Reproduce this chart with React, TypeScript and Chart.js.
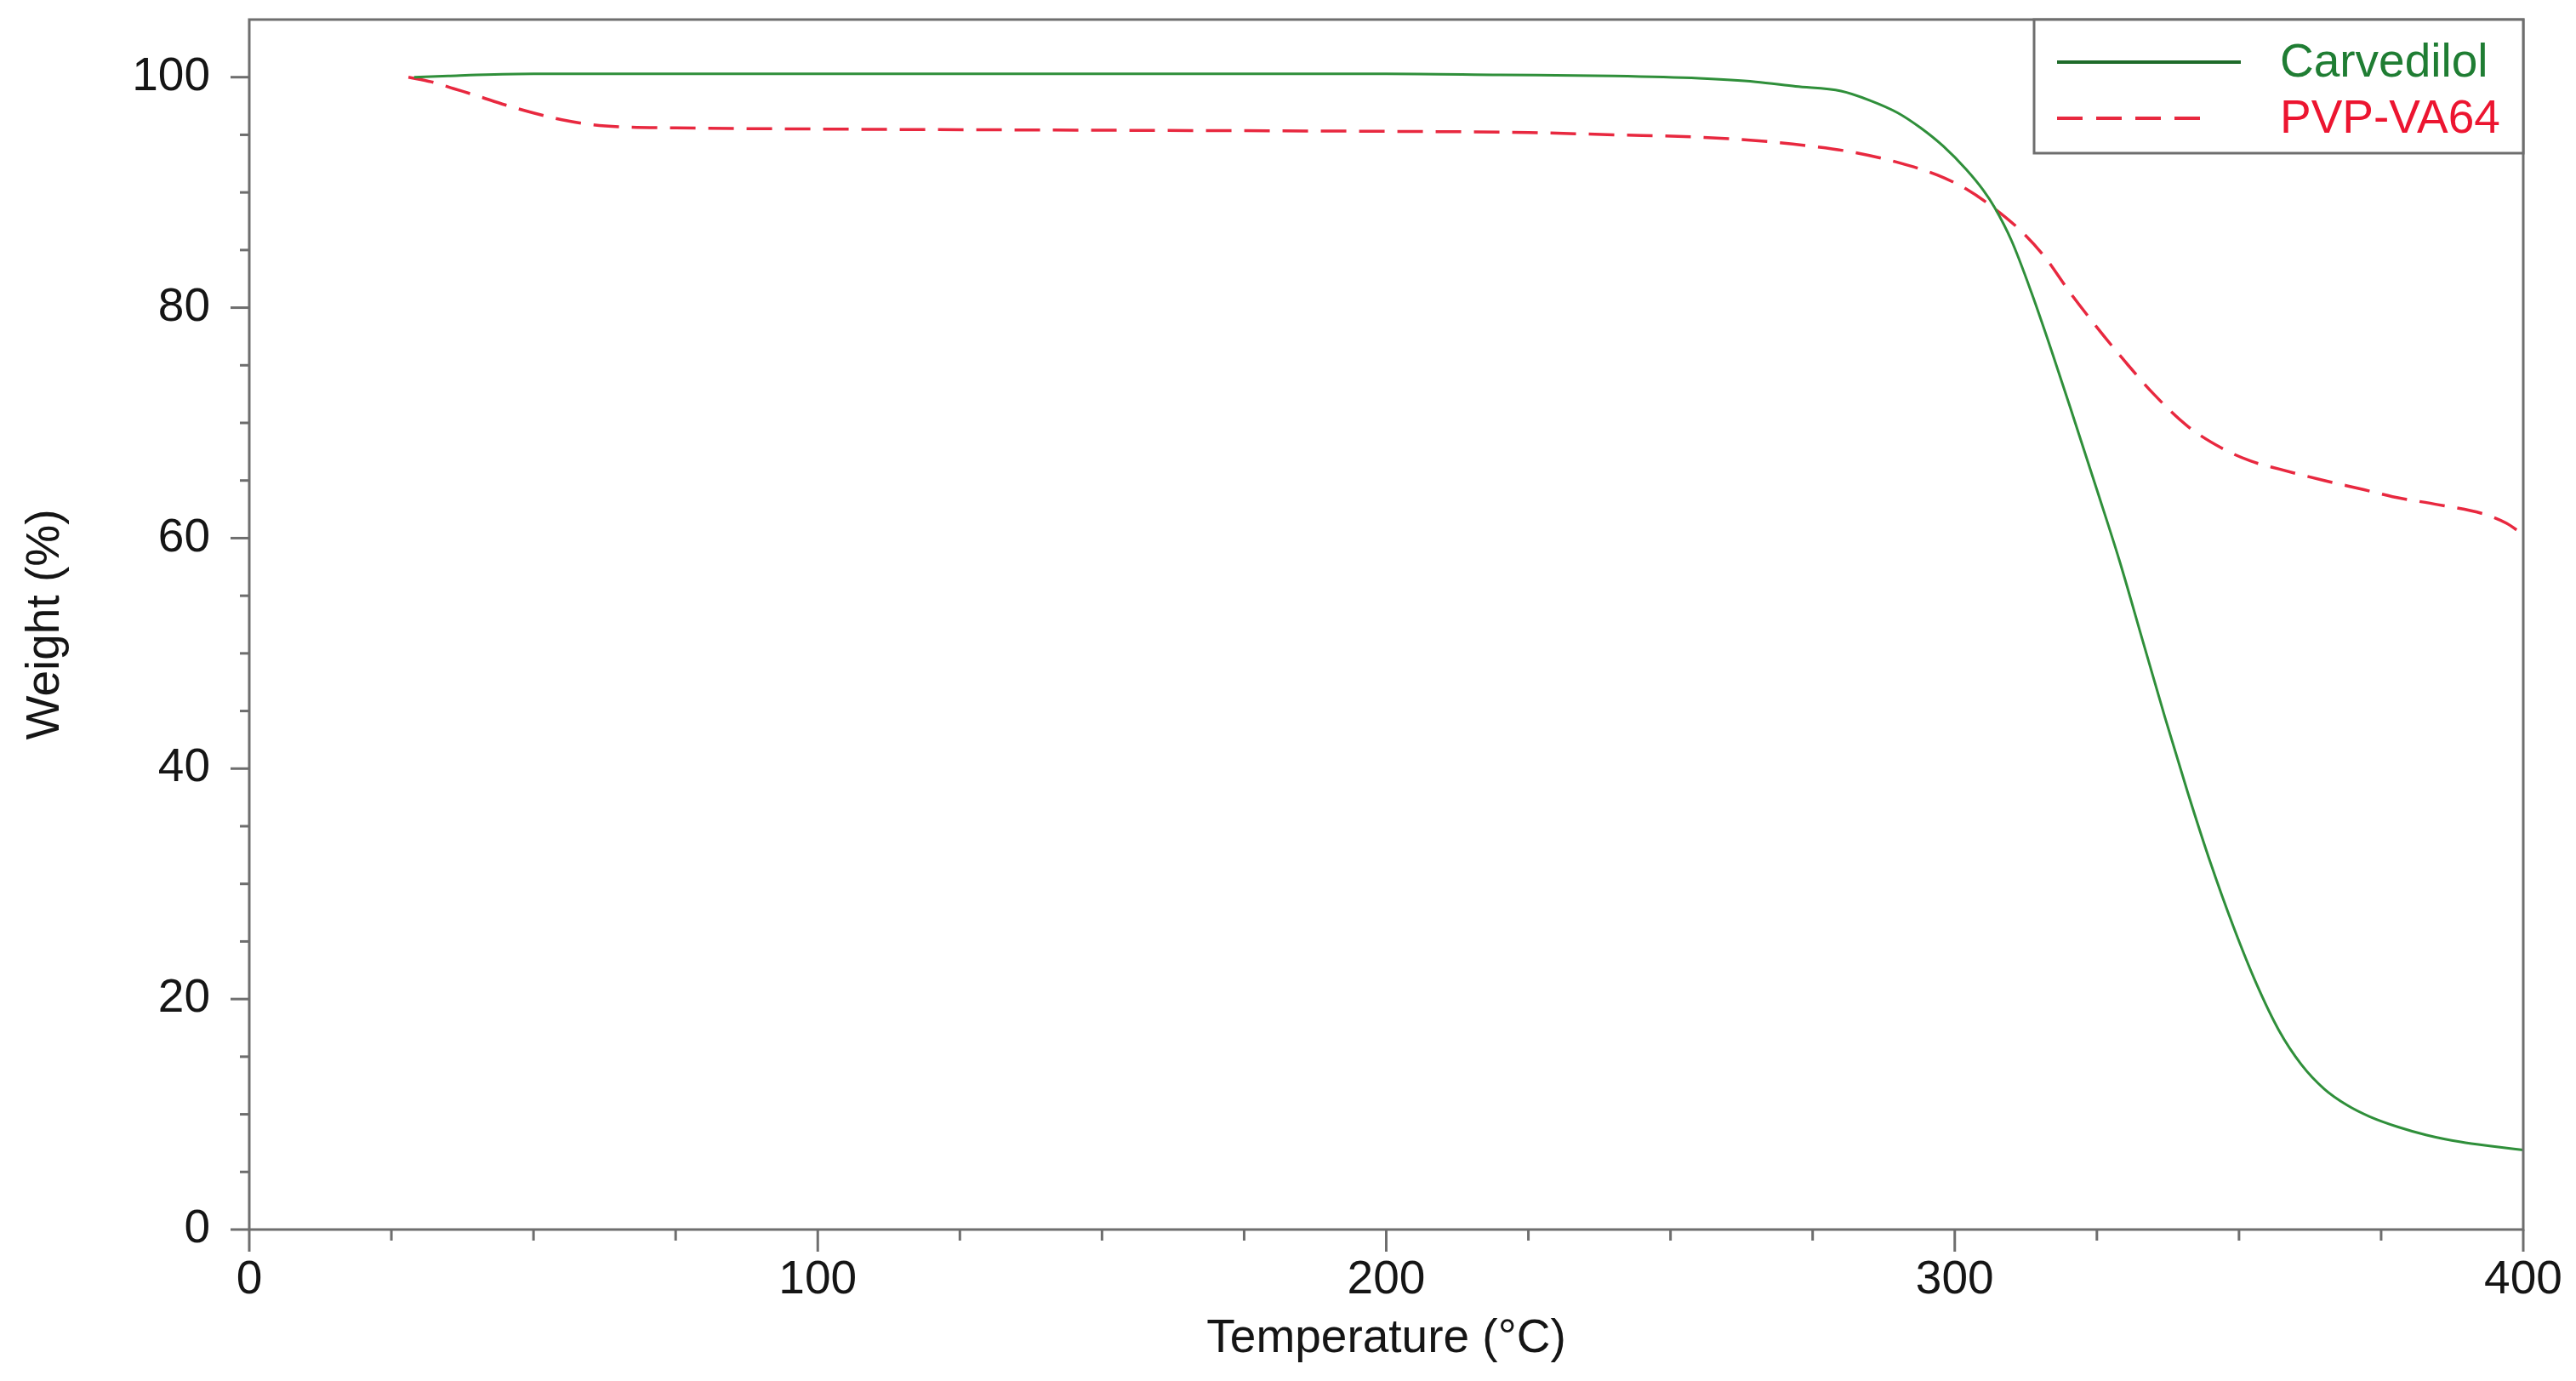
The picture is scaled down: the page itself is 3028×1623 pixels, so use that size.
import React, { useEffect, useRef } from 'react';
import { Chart, registerables } from 'chart.js';

Chart.register(...registerables);

// ---- data ----
const carvedilolTemp = [29, 35, 40, 50, 75, 100, 150, 200, 220, 240, 255, 265, 272, 280, 285, 290, 294, 298, 302, 305, 307, 310, 313.5, 317, 321, 325, 329, 333, 337, 341, 345, 349, 353, 357, 361, 365, 369, 373, 378, 383, 389, 395, 400];
const carvedilolWeight = [100, 100.1, 100.2, 100.3, 100.3, 100.3, 100.3, 100.3, 100.2, 100.1, 99.9, 99.6, 99.2, 98.8, 98.0, 96.9, 95.6, 94.0, 92.0, 90.2, 88.7, 85.8, 81.3, 76.3, 70.3, 64.2, 58, 51.2, 44.4, 37.9, 31.8, 26.3, 21.4, 17.3, 14.3, 12.2, 10.8, 9.8, 8.9, 8.2, 7.6, 7.2, 6.9];

const pvpTemp = [28, 32, 36, 40, 45, 50, 55, 60, 65, 75, 100, 150, 200, 225, 240, 255, 265, 275, 282, 290, 297, 302, 307, 312, 316, 320, 325, 330, 335, 341, 347, 352, 357, 365, 372, 377, 385, 393, 397, 400];
const pvpWeight = [100, 99.6, 99.0, 98.4, 97.6, 96.9, 96.3, 95.9, 95.7, 95.6, 95.5, 95.4, 95.3, 95.2, 95.0, 94.8, 94.5, 94.0, 93.5, 92.6, 91.5, 90.3, 88.6, 86.5, 84.3, 81.5, 78.3, 75.3, 72.5, 69.7, 67.8, 66.7, 66.0, 65.0, 64.2, 63.6, 62.9, 62.1, 61.3, 60.3];

const seriesLabels = ['Carvedilol', 'PVP-VA64'];
const xMajorTicks = [0, 100, 200, 300, 400];
const yMajorTicks = [0, 20, 40, 60, 80, 100];
const xMinorStep = 25;
const yMinorStep = 5;
const xTitle = 'Temperature (°C)';
const yTitle = 'Weight (%)';

// ---- styles ----
const FONT = '"Liberation Sans", Arial, Helvetica, sans-serif';
const GREEN_LINE = '#2f8f3a';
const GREEN_TEXT = '#1f7d33';
const RED_LINE = '#e8283f';
const RED_TEXT = '#ec1530';
const AXIS_GRAY = '#6e6e6e';

const framePlugin = {
  id: 'frameAndTicks',
  afterDraw(chart: any) {
    const { ctx, chartArea } = chart;
    const { left, right, top, bottom } = chartArea;
    const xs = chart.scales.x;
    const ys = chart.scales.y;
    ctx.save();
    ctx.strokeStyle = AXIS_GRAY;
    ctx.lineWidth = 3;
    ctx.strokeRect(left, top, right - left, bottom - top);

    // y ticks
    for (let v = ys.min; v <= 100 + 1e-6; v += yMinorStep) {
      const y = ys.getPixelForValue(v);
      const len = yMajorTicks.includes(v) ? 22 : 11;
      ctx.beginPath();
      ctx.moveTo(left - len, y);
      ctx.lineTo(left, y);
      ctx.stroke();
    }
    // x ticks
    for (let v = xs.min; v <= xs.max + 1e-6; v += xMinorStep) {
      const x = xs.getPixelForValue(v);
      const len = xMajorTicks.includes(v) ? 26 : 13;
      ctx.beginPath();
      ctx.moveTo(x, bottom);
      ctx.lineTo(x, bottom + len);
      ctx.stroke();
    }

    // legend box
    const boxW = 575;
    const boxH = 157;
    const bx = right - boxW;
    const by = top;
    ctx.fillStyle = '#ffffff';
    ctx.fillRect(bx, by, boxW, boxH);
    ctx.strokeStyle = AXIS_GRAY;
    ctx.lineWidth = 3;
    ctx.strokeRect(bx, by, boxW, boxH);

    const items = [
      { label: chart.data.datasets[0].label, line: '#1e6b2a', text: GREEN_TEXT, dash: [] as number[], y: by + 50, len: 216 },
      { label: chart.data.datasets[1].label, line: RED_LINE, text: RED_TEXT, dash: [30, 16], y: by + 116, len: 170 },
    ];
    ctx.font = `55px ${FONT}`;
    ctx.textBaseline = 'middle';
    ctx.textAlign = 'left';
    for (const it of items) {
      ctx.strokeStyle = it.line;
      ctx.lineWidth = 4;
      ctx.setLineDash(it.dash);
      ctx.beginPath();
      ctx.moveTo(bx + 27, it.y);
      ctx.lineTo(bx + 27 + it.len, it.y);
      ctx.stroke();
      ctx.setLineDash([]);
      ctx.fillStyle = it.text;
      ctx.fillText(it.label, bx + 289, it.y + 2);
    }
    ctx.restore();
  },
};

export default function App() {
  const canvasRef = useRef<HTMLCanvasElement | null>(null);

  useEffect(() => {
    document.body.style.margin = '0';
    const canvas = canvasRef.current;
    if (!canvas) return;
    const toPoints = (xsArr: number[], ysArr: number[]) => xsArr.map((x, i) => ({ x, y: ysArr[i] }));
    const chart = new Chart(canvas, {
      type: 'line',
      data: {
        datasets: [
          {
            label: seriesLabels[0],
            data: toPoints(carvedilolTemp, carvedilolWeight),
            borderColor: GREEN_LINE,
            borderWidth: 3,
            pointRadius: 0,
            cubicInterpolationMode: 'monotone',
            fill: false,
          },
          {
            label: seriesLabels[1],
            data: toPoints(pvpTemp, pvpWeight),
            borderColor: RED_LINE,
            borderWidth: 3.5,
            borderDash: [30, 15],
            pointRadius: 0,
            cubicInterpolationMode: 'monotone',
            fill: false,
          },
        ],
      },
      options: {
        animation: false,
        responsive: false,
        devicePixelRatio: 1,
        layout: { padding: { left: 0, right: 62, top: 23, bottom: 0 } },
        plugins: {
          legend: { display: false },
          tooltip: { enabled: false },
        },
        scales: {
          x: {
            type: 'linear',
            min: 0,
            max: 400,
            grid: { display: false, drawTicks: false },
            border: { display: false },
            afterBuildTicks: (axis: any) => {
              axis.ticks = xMajorTicks.map((v) => ({ value: v }));
            },
            afterFit: (axis: any) => {
              axis.height = 178;
              axis.paddingLeft = 0;
              axis.paddingRight = 0;
            },
            ticks: {
              padding: 27,
              color: '#151515',
              font: { family: FONT, size: 55 },
              maxRotation: 0,
              autoSkip: false,
            },
            title: {
              display: true,
              text: xTitle,
              color: '#151515',
              font: { family: FONT, size: 55 },
              padding: { top: 0, bottom: 16 },
            },
          },
          y: {
            type: 'linear',
            min: 0,
            max: 105,
            grid: { display: false, drawTicks: false },
            border: { display: false },
            afterBuildTicks: (axis: any) => {
              axis.ticks = yMajorTicks.map((v) => ({ value: v }));
            },
            afterFit: (axis: any) => {
              axis.width = 293;
              axis.paddingTop = 0;
              axis.paddingBottom = 0;
            },
            ticks: {
              padding: 46,
              color: '#151515',
              font: { family: FONT, size: 55 },
              autoSkip: false,
            },
            title: {
              display: true,
              text: yTitle,
              color: '#151515',
              font: { family: FONT, size: 55 },
              padding: { top: 21, bottom: 0 },
            },
          },
        },
      },
      plugins: [framePlugin],
    } as any);
    return () => chart.destroy();
  }, []);

  return (
    <div style={{ width: 3028, height: 1623, background: '#ffffff' }}>
      <canvas ref={canvasRef} width={3028} height={1623} style={{ display: 'block' }} />
    </div>
  );
}
